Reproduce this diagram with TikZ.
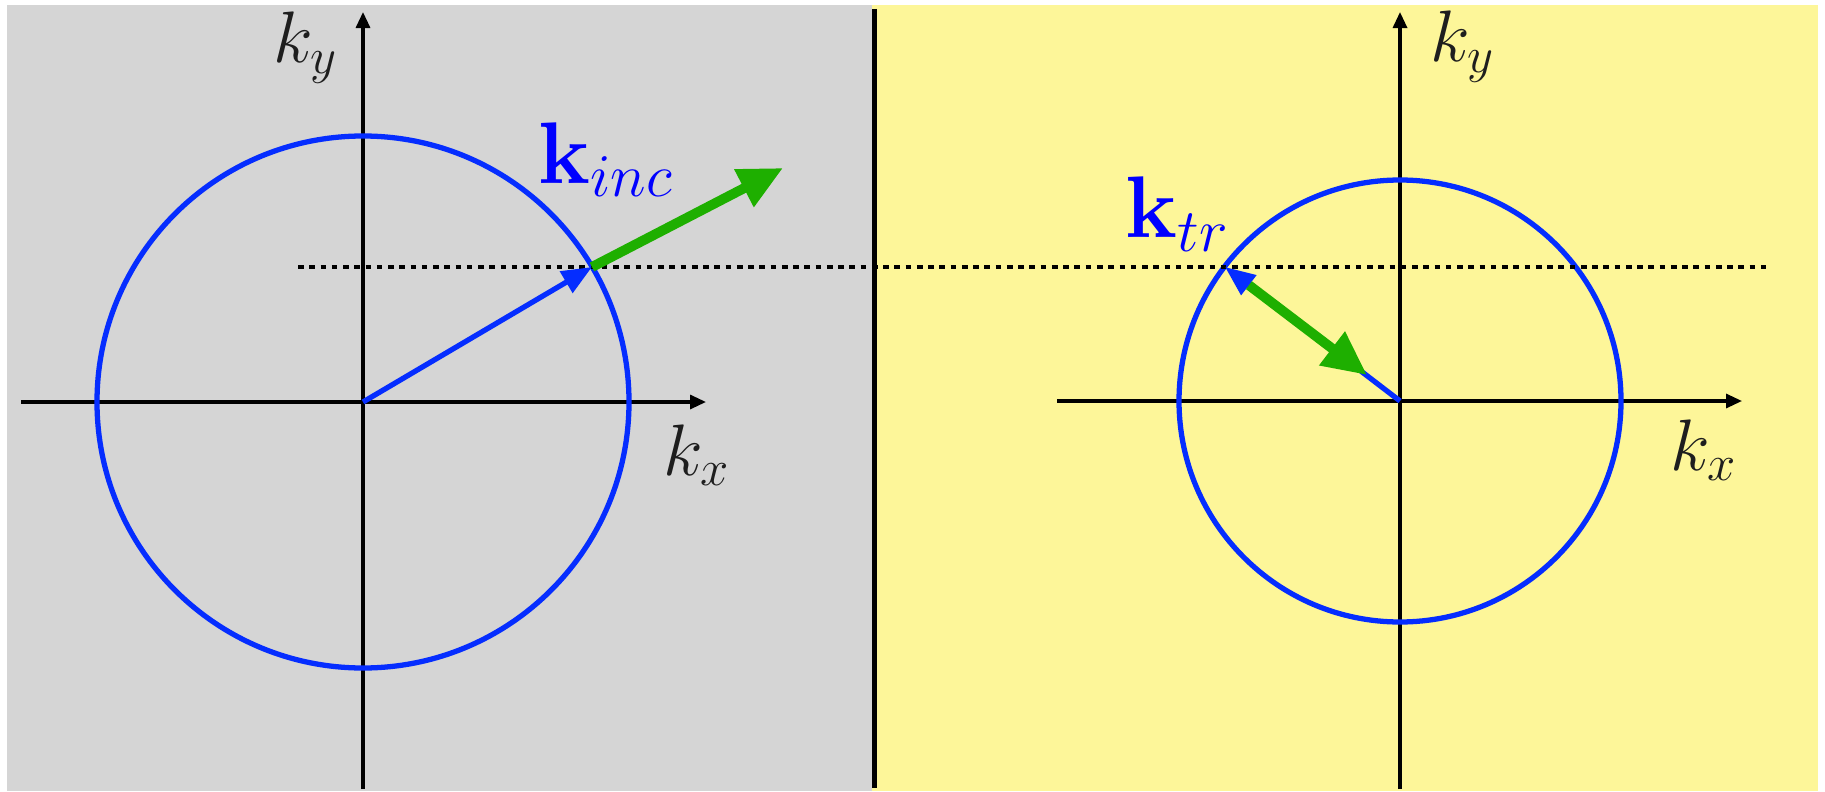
\documentclass[tikz,border=0pt]{standalone}
\usetikzlibrary{arrows.meta}
\definecolor{bggray}{RGB}{213,213,213}
\definecolor{bgyellow}{RGB}{253,246,153}
\definecolor{kblue}{RGB}{5,45,255}
\definecolor{kgreen}{RGB}{30,175,0}
\definecolor{txtgray}{RGB}{30,30,30}
\begin{document}
\begin{tikzpicture}[x=0.01cm,y=-0.01cm,
	axis/.style={line width=0.9pt,-{Triangle[length=0.16cm,width=0.14cm]}},
	shell/.style={kblue,line width=1.5pt},
	kvec/.style={kblue,line width=1.5pt,-{Triangle[length=0.3cm,width=0.24cm]}},
	flow/.style={kgreen,line width=2.8pt,-{Triangle[length=0.44cm,width=0.4cm]}},
	lbl/.style={inner sep=0pt,anchor=base west,text=txtgray,font=\fontsize{22.5}{27}\selectfont}]
	\useasboundingbox (0,0) rectangle (1825,791);
	\fill[bggray] (7,5) rectangle (872,791);
	\fill[bgyellow] (872,5) rectangle (1818,791);
	\draw[line width=1.4pt] (874.5,9) -- (874.5,788);
	% points
	\coordinate (o1) at (363,402);
	\coordinate (p1) at (592,267);
	\coordinate (g1) at (783,168);
	\coordinate (o2) at (1400,401);
	\coordinate (p2) at (1225,267);
	\coordinate (g2) at (1367,375);
	% left half
	\draw[axis] (21,402) -- (706,402);
	\draw[axis] (363,789) -- (363,12);
	\draw[shell] (o1) circle (266);
	\node[lbl] (ky1) at (273,63) {$k_y$};
	\node[lbl] (kx1) at (663,475) {$k_x$};
	% right half
	\draw[axis] (1057,401) -- (1742,401);
	\draw[axis] (1400,789) -- (1400,12);
	\draw[shell] (o2) circle (221);
	\node[lbl] (ky2) at (1430,62) {$k_y$};
	\node[lbl] (kx2) at (1670,470) {$k_x$};
	\draw[line width=1pt,dash pattern=on 1.6pt off 1.6pt] (298,267) -- (1766,267);
	% wave vectors
	\draw[kvec] (o1) -- (p1);
	\draw[flow] (p1) -- (g1);
	\node[lbl,text=blue,font=\fontsize{24}{29}\selectfont] (kinc) at (538,183) {$\mathbf{k}_{inc}$};
	\draw[kvec] (o2) -- (p2);
	\draw[flow,shorten <=0.3cm] (p2) -- (g2);
	\node[lbl,text=blue,font=\fontsize{24}{29}\selectfont] (ktr) at (1125,238) {$\mathbf{k}_{tr}$};
\end{tikzpicture}
\end{document}
